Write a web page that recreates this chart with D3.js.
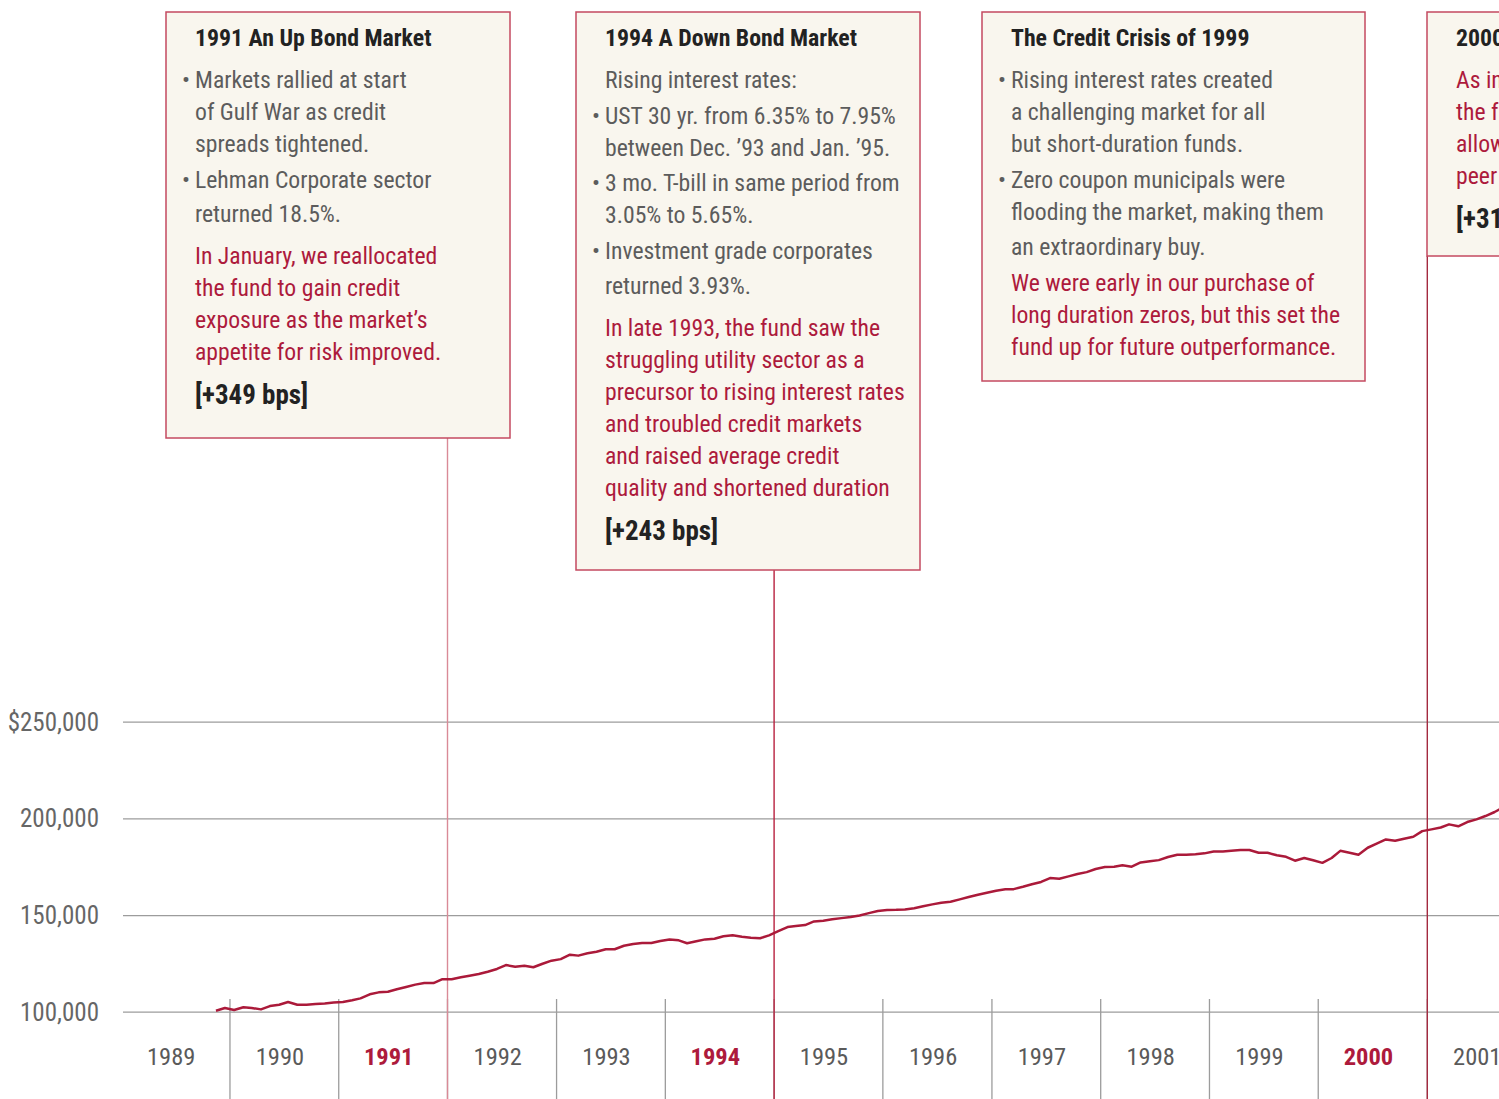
<!DOCTYPE html>
<html>
<head>
<meta charset="utf-8">
<script src="https://cdn.jsdelivr.net/npm/d3@7"></script>
<style>
  html, body { margin: 0; padding: 0; overflow: hidden; background: #fff; }
  svg { display: block; }
  text { font-family: "Liberation Sans Narrow", "Roboto Condensed", "DejaVu Sans Condensed", sans-serif; }
</style>
</head>
<body>
<svg id="chart" width="1499" height="1099"></svg>
<script>
// ---------------- DATA ----------------
const seriesStart = [1989, 10, 15]; // first monthly observation (year, monthIndex, day)
const fundValues = [
  100500, 101900, 100900, 102300, 101900, 101200, 102900, 103600, 105000, 103600,
  103600, 104000, 104300, 104700, 105000, 105900, 106900, 109000, 110000, 110300,
  111600, 112800, 114000, 114800, 114800, 116800, 116800, 117800, 118600, 119500,
  120700, 122100, 124100, 123300, 123800, 123000, 124800, 126400, 127200, 129500,
  129000, 130200, 131000, 132300, 132300, 134100, 135000, 135500, 135500, 136600,
  137400, 136900, 135400, 136400, 137400, 137700, 139000, 139500, 138800, 138300,
  138000, 139500, 141700, 143800, 144300, 144800, 146700, 147100, 147800, 148400,
  149000, 149800, 151000, 152100, 152600, 152700, 152900, 153500, 154500, 155500,
  156400, 156900, 158100, 159300, 160500, 161500, 162600, 163300, 163400, 164600,
  165900, 167100, 169100, 168800, 170000, 171200, 172200, 173800, 174800, 175000,
  175700, 175000, 177200, 177800, 178400, 180000, 181200, 181200, 181500, 181900,
  182900, 182900, 183200, 183600, 183600, 182200, 182200, 180900, 180100, 178100,
  179500, 178300, 177000, 179500, 183200, 182200, 181200, 184800, 186900, 189100,
  188400, 189500, 190500, 193400, 194300, 195300, 196900, 195900, 198100, 199500,
  201200, 203300, 205800
];
const yearLabels = [1989, 1990, 1991, 1992, 1993, 1994, 1995, 1996, 1997, 1998, 1999, 2000, 2001];
const highlightYears = [1991, 1994, 2000];
const yTickValues = [100000, 150000, 200000, 250000];

const box1991 = [
  ["title", "1991 An Up Bond Market"],
  ["bullet", "Markets rallied at start"],
  ["body", "of Gulf War as credit"],
  ["body", "spreads tightened."],
  ["bullet", "Lehman Corporate sector"],
  ["body", "returned 18.5%."],
  ["red", "In January, we reallocated"],
  ["red", "the fund to gain credit"],
  ["red", "exposure as the market\u2019s"],
  ["red", "appetite for risk improved."],
  ["bps", "[+349 bps]"]
];
const box1994 = [
  ["title", "1994 A Down Bond Market"],
  ["body", "Rising interest rates:"],
  ["bullet", "UST 30 yr. from 6.35% to 7.95%"],
  ["body", "between Dec. \u201993 and Jan. \u201995."],
  ["bullet", "3 mo. T-bill in same period from"],
  ["body", "3.05% to 5.65%."],
  ["bullet", "Investment grade corporates"],
  ["body", "returned 3.93%."],
  ["red", "In late 1993, the fund saw the"],
  ["red", "struggling utility sector as a"],
  ["red", "precursor to rising interest rates"],
  ["red", "and troubled credit markets"],
  ["red", "and raised average credit"],
  ["red", "quality and shortened duration"],
  ["bps", "[+243 bps]"]
];
const box1999 = [
  ["title", "The Credit Crisis of 1999"],
  ["bullet", "Rising interest rates created"],
  ["body", "a challenging market for all"],
  ["body", "but short-duration funds."],
  ["bullet", "Zero coupon municipals were"],
  ["body", "flooding the market, making them"],
  ["body", "an extraordinary buy."],
  ["red", "We were early in our purchase of"],
  ["red", "long duration zeros, but this set the"],
  ["red", "fund up for future outperformance."]
];
const box2000 = [
  ["title", "2000 A Recovering Market"],
  ["red", "As interest rates declined,"],
  ["red", "the fund\u2019s long zeros"],
  ["red", "allowed it to outpace its"],
  ["red", "peer group."],
  ["bps", "[+315 bps]"]
];

// ---------------- LAYOUT ----------------
const W = 1499, H = 1099;
const plotLeft = 123;
const boxes = [
  { year: 1991, lines: box1991, x: 166, y: 12, w: 344, h: 426,
    ys: [46, 88, 120, 152, 188, 222, 264, 296, 328, 360, 404], lineColor: "#d98a97" },
  { year: 1994, lines: box1994, x: 576, y: 12, w: 344, h: 558,
    ys: [46, 88, 124, 156, 191, 223, 259, 294, 336, 368, 400, 432, 464, 496, 540], lineColor: "#b8213f" },
  { year: 1999, lines: box1999, x: 982, y: 12, w: 383, h: 369,
    ys: [46, 88, 120, 152, 188, 220, 255, 291, 323, 355], lineColor: null },
  { year: 2000, lines: box2000, x: 1427, y: 12, w: 260, h: 244,
    ys: [46, 88, 120, 152, 184, 228], lineColor: "#a42a40" }
];

const RED = "#ad1a3c";
const BODY = 23.7, TITLE = 23.8, BPS = 27;
const svg = d3.select("#chart");

const x = d3.scaleTime()
  .domain([new Date(1989, 0, 1), new Date(2001, 0, 1)])
  .range([121.2, 1427.3]);
const y = d3.scaleLinear().domain([100000, 250000]).range([1011.7, 721.7]);

const data = fundValues.map((v, i) => ({
  date: new Date(seriesStart[0], seriesStart[1] + i, seriesStart[2]),
  value: v
}));

// horizontal gridlines + y labels via axis
const yAxis = d3.axisLeft(y)
  .tickValues(yTickValues)
  .tickSize(-(W - plotLeft))
  .tickPadding(24)
  .tickFormat(d => (d === 250000 ? "$" : "") + d3.format(",")(d));
const gy = svg.append("g").attr("transform", `translate(${plotLeft},0)`).call(yAxis);
gy.select(".domain").remove();
gy.selectAll(".tick line").attr("stroke", "#9c9c9c").attr("stroke-width", 1.3);
gy.selectAll(".tick text")
  .attr("fill", "#666").attr("font-size", 25).attr("dy", "0.34em");

// year boundary ticks (gray)
const boundaries = d3.range(1990, 2002).map(yr => new Date(yr, 0, 1));
svg.append("g").selectAll("line").data(boundaries).join("line")
  .attr("x1", d => x(d)).attr("x2", d => x(d))
  .attr("y1", 999).attr("y2", H)
  .attr("stroke", "#9c9c9c").attr("stroke-width", 1.3);

// year labels
svg.append("g").selectAll("text").data(yearLabels).join("text")
  .attr("x", d => x(new Date(d, 6, 1)) - 4)
  .attr("y", 1065)
  .attr("text-anchor", "middle")
  .attr("font-size", 24.5)
  .attr("font-weight", d => highlightYears.includes(d) ? "bold" : "normal")
  .attr("fill", d => highlightYears.includes(d) ? RED : "#5a5a5a")
  .text(d => d);

// red connector lines from boxes
boxes.filter(b => b.lineColor).forEach(b => {
  const lx = x(new Date(b.year + 1, 0, 1));
  svg.append("line")
    .attr("x1", lx).attr("x2", lx)
    .attr("y1", b.y + b.h).attr("y2", H)
    .attr("stroke", b.lineColor).attr("stroke-width", 1.4);
});

// the fund line
const line = d3.line().x(d => x(d.date)).y(d => y(d.value));
svg.append("path").datum(data)
  .attr("d", line)
  .attr("fill", "none")
  .attr("stroke", "#ab1a3a")
  .attr("stroke-width", 2.5)
  .attr("stroke-linejoin", "round");

// annotation boxes
boxes.forEach(b => {
  const g = svg.append("g");
  g.append("rect")
    .attr("x", b.x).attr("y", b.y).attr("width", b.w).attr("height", b.h)
    .attr("fill", "#f9f6ee").attr("stroke", "#c44a60").attr("stroke-width", 1.5);
  const tx = b.x + 29;
  b.lines.forEach((ln, i) => {
    const [kind, str] = ln;
    const t = g.append("text").attr("x", tx).attr("y", b.ys[i]).text(str);
    if (kind === "title") t.attr("font-size", TITLE).attr("font-weight", "bold").attr("fill", "#222");
    else if (kind === "bps") t.attr("font-size", BPS).attr("font-weight", "bold").attr("fill", "#222");
    else if (kind === "red") t.attr("font-size", BODY).attr("fill", RED);
    else t.attr("font-size", BODY).attr("fill", "#5c5c5c");
    if (kind === "bullet") {
      g.append("text").attr("x", tx - 5).attr("y", b.ys[i]).attr("text-anchor", "end")
        .attr("font-size", BODY).attr("fill", "#5c5c5c").text("\u2022");
    }
  });
});
</script>
</body>
</html>
